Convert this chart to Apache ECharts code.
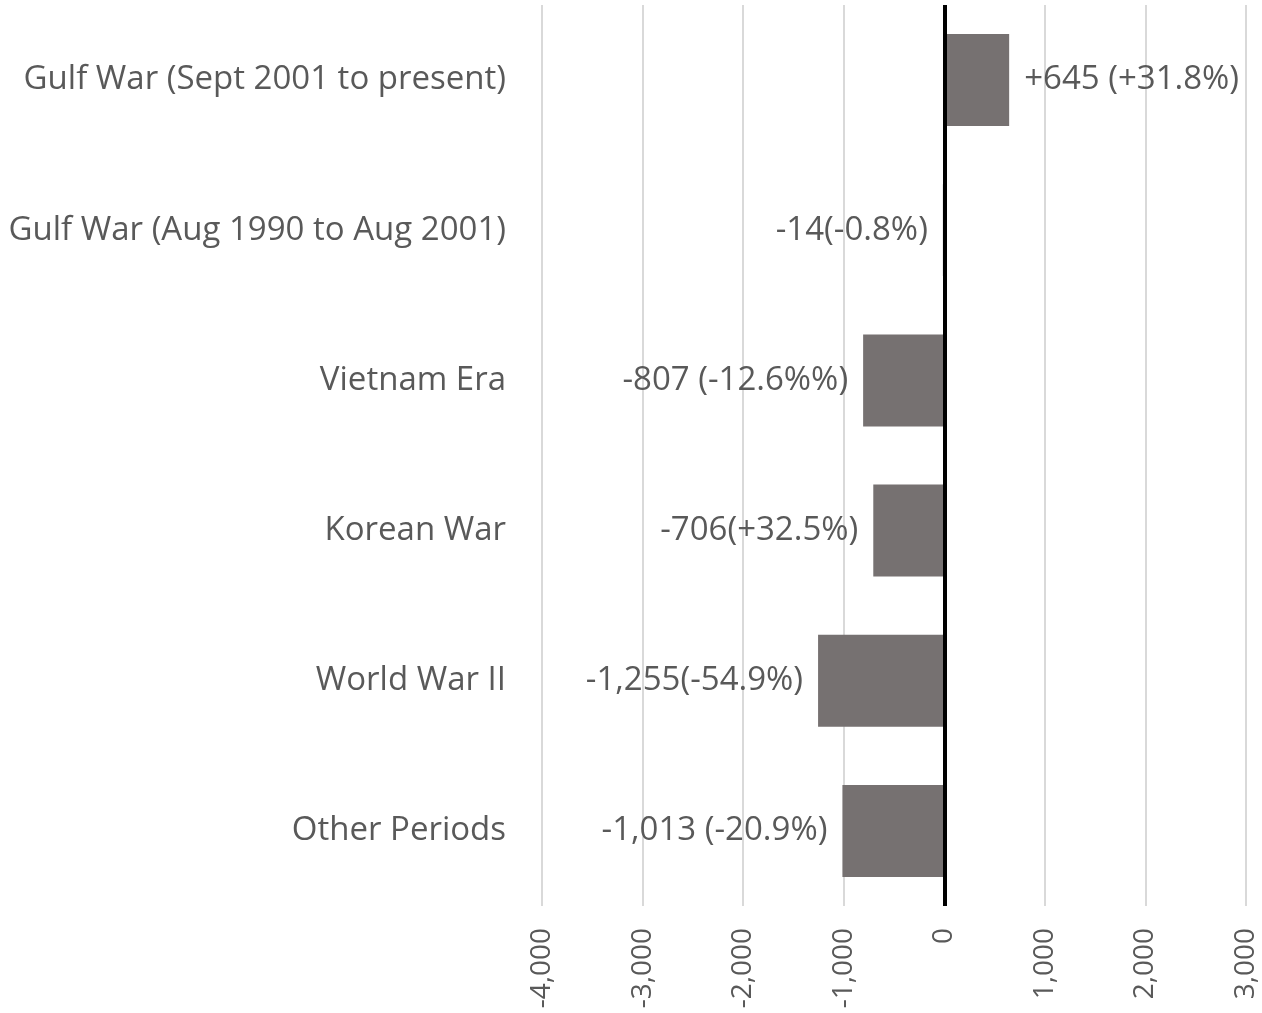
<!DOCTYPE html>
<html>
<head>
<meta charset="utf-8">
<script src="https://cdn.jsdelivr.net/npm/echarts@6/dist/echarts.min.js"></script>
<style>
  html, body { margin: 0; padding: 0; background: #fff; }
  #chart { width: 1262px; height: 1013px; }
</style>
</head>
<body>
<div id="chart"></div>
<script>
// top to bottom
const categories = [
  'Gulf War (Sept 2001 to present)',
  'Gulf War (Aug 1990 to Aug 2001)',
  'Vietnam Era',
  'Korean War',
  'World War II',
  'Other Periods'
]
const changes = [645, -14, -807, -706, -1255, -1013]
const changeLabels = [
  '+645 (+31.8%)',
  '-14(-0.8%)',
  '-807 (-12.6%%)',
  '-706(+32.5%)',
  '-1,255(-54.9%)',
  '-1,013 (-20.9%)'
]
const xMin = -4000
const xMax = 3000
const xStep = 1000

const textColor = '#595959'
const font = 'Open Sans'

const chart = echarts.init(document.getElementById('chart'))

chart.setOption({
  animation: false,
  grid: { left: 542, right: 16, top: 5, bottom: 107 },
  xAxis: {
    type: 'value',
    min: xMin,
    max: xMax,
    interval: xStep,
    axisLine: { show: false },
    axisTick: { show: false },
    splitLine: { lineStyle: { color: '#d9d9d9', width: 2 } },
    axisLabel: {
      rotate: 90,
      margin: 22,
      color: textColor,
      fontFamily: font,
      fontSize: 28,
      formatter: v => v.toLocaleString('en-US')
    }
  },
  yAxis: {
    type: 'category',
    inverse: true,
    data: categories,
    axisLine: { show: false, onZero: false },
    axisTick: { show: false },
    axisLabel: {
      margin: 36,
      color: textColor,
      fontFamily: font,
      fontSize: 33,
      padding: [6, 0, 0, 0]
    }
  },
  series: [{
    type: 'bar',
    barWidth: 92,
    itemStyle: { color: '#767171' },
    data: changes.map(v => ({
      value: v,
      label: { position: v >= 0 ? 'right' : 'left' }
    })),
    label: {
      show: true,
      distance: 15,
      color: textColor,
      fontFamily: font,
      fontSize: 33,
      padding: [6, 0, 0, 0],
      formatter: p => changeLabels[p.dataIndex]
    },
    markLine: {
      silent: true,
      symbol: 'none',
      label: { show: false },
      lineStyle: { color: '#000', width: 4, type: 'solid' },
      data: [{ xAxis: 0 }]
    }
  }]
})
</script>
</body>
</html>
